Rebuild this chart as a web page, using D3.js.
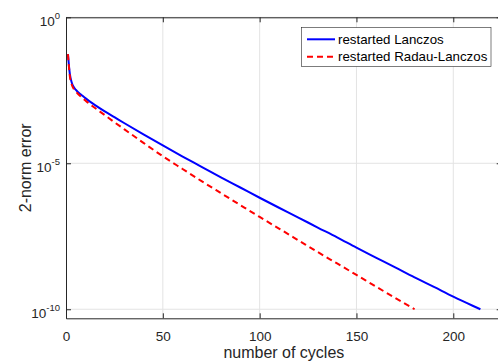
<!DOCTYPE html>
<html>
<head>
<meta charset="utf-8">
<script src="https://cdn.jsdelivr.net/npm/d3@7"></script>
<style>
  body { margin: 0; background: #fff; }
  svg { display: block; font-family: "Liberation Sans", Arial, sans-serif; }
</style>
</head>
<body>
<div id="chart"></div>
<script>
// data
const cyclesLanczos = [1, 2, 3, 4, 5, 6, 8, 10, 12, 15, 20, 25, 30, 40, 50, 60, 70, 80, 90, 100,
  110, 120, 130, 140, 150, 160, 170, 180, 190, 200, 210, 214];
const errLanczos = [5.5e-2, 1.12e-2, 5.75e-3, 4.07e-3, 3.31e-3, 2.82e-3, 2.19e-3, 1.70e-3, 1.35e-3,
  9.8e-4, 6.0e-4, 3.8e-4, 2.4e-4, 9.8e-5, 4.1e-5, 1.74e-5, 7.6e-6, 3.3e-6, 1.48e-6, 6.6e-7,
  3.0e-7, 1.38e-7, 6.3e-8, 2.9e-8, 1.29e-8, 5.9e-9, 2.7e-9, 1.23e-9, 5.8e-10, 2.7e-10, 1.32e-10, 1.0e-10];

const cyclesRadau = [1, 2, 3, 4, 5, 6, 8, 10, 12, 15, 20, 25, 30, 40, 50, 60, 70, 80, 90, 100,
  110, 120, 130, 140, 150, 160, 170, 180];
const errRadau = [5.5e-2, 9.5e-3, 4.9e-3, 3.5e-3, 2.9e-3, 2.45e-3, 1.85e-3, 1.42e-3, 1.1e-3,
  7.8e-4, 4.5e-4, 2.55e-4, 1.48e-4, 5.0e-5, 1.74e-5, 6.5e-6, 2.45e-6, 9.5e-7, 3.7e-7, 1.45e-7,
  5.8e-8, 2.3e-8, 9.1e-9, 3.7e-9, 1.5e-9, 6.0e-10, 2.45e-10, 1.0e-10];

const xTicks = [0, 50, 100, 150, 200];
const yTicks = [1e-10, 1e-5, 1e0];
const yTickExp = ["-10", "-5", "0"];
const seriesNames = ["restarted Lanczos", "restarted Radau-Lanczos"];

const width = 498;
const height = 362;
const margin = { top: 17.3, right: -3.7, bottom: 43.7, left: 66 };
const axisColor = "#262626";

const svg = d3.select("#chart")
  .append("svg")
  .attr("width", width)
  .attr("height", height);

const xScale = d3.scaleLinear()
  .domain([0, 225])
  .range([margin.left, width - margin.right]);

const yScale = d3.scaleLog()
  .domain([4.9e-11, 1])
  .range([height - margin.bottom, margin.top]);

// grid
svg.append("g")
  .selectAll("line")
  .data(xTicks.slice(1))
  .enter()
  .append("line")
  .attr("x1", d => xScale(d))
  .attr("x2", d => xScale(d))
  .attr("y1", yScale.range()[0])
  .attr("y2", yScale.range()[1])
  .style("stroke", "#e3e3e3")
  .style("stroke-width", 1);

svg.append("g")
  .selectAll("line")
  .data(yTicks)
  .enter()
  .append("line")
  .attr("x1", xScale.range()[0])
  .attr("x2", xScale.range()[1])
  .attr("y1", d => yScale(d))
  .attr("y2", d => yScale(d))
  .style("stroke", "#e3e3e3")
  .style("stroke-width", 1);

// axes, ticks pointing inside, box on
const bottomAxis = svg.append("g")
  .attr("transform", `translate(0, ${yScale.range()[0]})`)
  .call(d3.axisBottom(xScale).tickValues(xTicks).tickSizeInner(-5).tickSizeOuter(0).tickPadding(13));

const topAxis = svg.append("g")
  .attr("transform", `translate(0, ${yScale.range()[1]})`)
  .call(d3.axisTop(xScale).tickValues(xTicks).tickSizeInner(-5).tickSizeOuter(0).tickFormat(""));

const leftAxis = svg.append("g")
  .attr("transform", `translate(${xScale.range()[0]}, 0)`)
  .call(d3.axisLeft(yScale).tickValues(yTicks).tickSizeInner(-5).tickSizeOuter(0).tickFormat(""));

const rightAxis = svg.append("g")
  .attr("transform", `translate(${xScale.range()[1]}, 0)`)
  .call(d3.axisRight(yScale).tickValues(yTicks).tickSizeInner(-5).tickSizeOuter(0).tickFormat(""));

[bottomAxis, topAxis, leftAxis, rightAxis].forEach(a => {
  a.selectAll("path, line").style("stroke", axisColor);
});

bottomAxis.selectAll(".tick text")
  .style("font-size", "13.5px")
  .style("fill", axisColor)
  .style("font-family", "Liberation Sans, Arial, sans-serif");

// y tick labels with exponent
const yLabels = svg.append("g")
  .selectAll("text")
  .data(yTicks)
  .enter()
  .append("text")
  .attr("x", xScale.range()[0] - 6)
  .attr("y", d => yScale(d) + 8.5)
  .attr("text-anchor", "end")
  .style("fill", axisColor)
  .style("font-size", "13.5px");

yLabels.append("tspan").text("10");
yLabels.append("tspan")
  .attr("dy", -7)
  .style("font-size", "9.5px")
  .text((d, i) => yTickExp[i]);

// lines
const line = d3.line()
  .x(d => xScale(d[0]))
  .y(d => yScale(d[1]))
  .curve(d3.curveMonotoneX);

svg.append("path")
  .datum(d3.zip(cyclesLanczos, errLanczos))
  .attr("d", line)
  .style("fill", "none")
  .style("stroke", "#0000ff")
  .style("stroke-width", 2);

svg.append("path")
  .datum(d3.zip(cyclesRadau, errRadau))
  .attr("d", line)
  .style("fill", "none")
  .style("stroke", "#ff0000")
  .style("stroke-width", 2)
  .style("stroke-dasharray", "6,4");

// axis labels
svg.append("text")
  .attr("x", (xScale.range()[0] + xScale.range()[1]) / 2)
  .attr("y", 358)
  .attr("text-anchor", "middle")
  .style("font-size", "16px")
  .style("fill", axisColor)
  .text("number of cycles");

svg.append("text")
  .attr("transform", `translate(31, ${(yScale.range()[0] + yScale.range()[1]) / 2}) rotate(-90)`)
  .attr("text-anchor", "middle")
  .style("font-size", "16px")
  .style("fill", axisColor)
  .text("2-norm error");

// legend
const legend = svg.append("g");

legend.append("rect")
  .attr("x", 301.5)
  .attr("y", 27.5)
  .attr("width", 189.5)
  .attr("height", 39)
  .style("fill", "#fff")
  .style("stroke", axisColor)
  .style("stroke-width", 0.6);

const legendRows = legend.selectAll(".row")
  .data(seriesNames)
  .enter()
  .append("g")
  .attr("class", "row")
  .attr("transform", (d, i) => `translate(0, ${39.3 + i * 17.4})`);

legendRows.append("line")
  .attr("x1", 307)
  .attr("x2", 335)
  .style("stroke", (d, i) => i === 0 ? "#0000ff" : "#ff0000")
  .style("stroke-width", 2)
  .style("stroke-dasharray", (d, i) => i === 0 ? null : "6,4");

legendRows.append("text")
  .attr("x", 338)
  .attr("y", 4.7)
  .style("font-size", "13.3px")
  .style("fill", "#000")
  .text(d => d);
</script>
</body>
</html>
